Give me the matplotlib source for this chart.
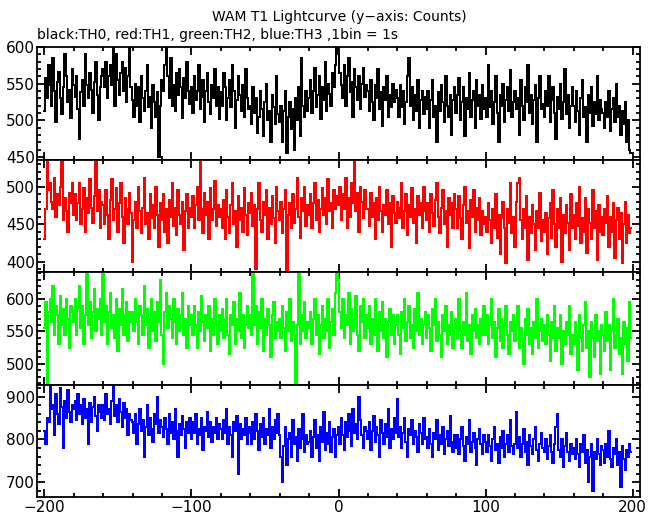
import numpy as np
import matplotlib
matplotlib.use("Agg")
import matplotlib.pyplot as plt
from matplotlib.ticker import MultipleLocator

# time bins (1 bin = 1 s)
tiempo = np.arange(-200, 200)

# TH0 (black) counts
th0 = [
    512, 558, 530, 575, 548, 520, 585, 540, 497, 552, 566, 530, 508, 545, 590, 560, 525, 542, 503, 570,
    548, 532, 560, 515, 475, 538, 555, 520, 590, 548, 530, 565, 542, 510, 552, 580, 535, 500, 545, 560,
    570, 545, 580, 530, 560, 575, 548, 605, 520, 590, 555, 535, 565, 580, 540, 572, 525, 560, 605, 545,
    528, 505, 550, 520, 545, 498, 560, 530, 512, 540, 575, 518, 532, 490, 548, 525, 505, 538, 450, 520,
    555, 540, 575, 605, 560, 530, 585, 520, 548, 512, 565, 535, 570, 545, 503, 558, 530, 580, 540, 522,
    545, 510, 560, 528, 540, 575, 515, 532, 555, 498, 540, 565, 525, 508, 548, 530, 570, 520, 545, 502,
    538, 520, 565, 545, 500, 530, 555, 518, 575, 540, 490, 528, 560, 535, 512, 548, 505, 570, 530, 515,
    520, 495, 545, 510, 530, 482, 505, 540, 515, 478, 525, 550, 500, 512, 470, 535, 518, 495, 560, 508,
    498, 520, 470, 512, 540, 455, 505, 525, 488, 515, 460, 530, 500, 545, 478, 585, 520, 505, 540, 512,
    530, 555, 510, 540, 572, 518, 535, 560, 502, 545, 528, 580, 512, 550, 536, 520, 565, 545, 575, 605,
    590, 565, 548, 530, 575, 520, 560, 585, 538, 552, 505, 570, 545, 528, 560, 515, 550, 572, 532, 548,
    540, 512, 555, 525, 500, 548, 530, 570, 515, 538, 492, 545, 528, 560, 505, 535, 518, 550, 525, 542,
    530, 505, 548, 518, 540, 495, 525, 560, 585, 520, 545, 500, 535, 512, 555, 490, 528, 540, 508, 532,
    515, 540, 490, 528, 555, 505, 520, 470, 538, 512, 548, 525, 498, 560, 520, 505, 535, 480, 528, 545,
    510, 535, 558, 500, 525, 545, 478, 530, 515, 565, 505, 528, 540, 490, 555, 520, 535, 502, 548, 515,
    530, 505, 575, 518, 540, 495, 525, 560, 510, 470, 535, 520, 550, 498, 528, 545, 512, 568, 505, 525,
    540, 515, 530, 480, 555, 520, 500, 545, 525, 575, 510, 535, 495, 528, 548, 470, 530, 560, 515, 522,
    505, 540, 520, 560, 498, 528, 545, 510, 475, 532, 515, 550, 502, 525, 570, 508, 535, 490, 520, 545,
    520, 498, 540, 512, 480, 530, 555, 505, 518, 470, 535, 510, 545, 492, 525, 508, 560, 500, 528, 515,
    510, 490, 525, 505, 540, 485, 515, 530, 498, 550, 505, 520, 480, 512, 495, 525, 470, 500, 460, 455,
]

# TH1 (red) counts
th1 = [
    430, 470, 540, 495, 505, 480, 470, 512, 460, 490, 475, 500, 540, 455, 485, 468, 440, 492, 478, 505,
    462, 490, 455, 478, 505, 450, 470, 498, 440, 485, 465, 510, 472, 452, 488, 540, 468, 495, 445, 480,
    475, 450, 495, 462, 430, 482, 510, 455, 470, 498, 440, 478, 505, 460, 425, 485, 470, 450, 492, 465,
    400, 455, 480, 445, 500, 468, 438, 472, 512, 450, 465, 430, 490, 458, 475, 445, 500, 462, 420, 478,
    455, 490, 440, 470, 425, 482, 460, 505, 448, 472, 435, 495, 462, 450, 480, 415, 468, 490, 445, 472,
    460, 488, 445, 475, 500, 455, 540, 470, 438, 492, 462, 480, 430, 498, 455, 470, 508, 448, 475, 460,
    470, 445, 482, 430, 495, 460, 438, 475, 505, 450, 468, 420, 488, 455, 472, 440, 498, 462, 435, 478,
    465, 492, 448, 475, 390, 470, 505, 455, 440, 480, 462, 495, 430, 472, 450, 488, 458, 425, 500, 468,
    455, 480, 438, 470, 495, 388, 462, 478, 445, 490, 452, 470, 512, 460, 432, 485, 468, 500, 448, 475,
    462, 490, 445, 478, 505, 455, 482, 440, 470, 498, 462, 485, 450, 510, 468, 478, 445, 495, 470, 488,
    475, 500, 455, 490, 470, 512, 445, 485, 460, 505, 478, 540, 468, 492, 440, 500, 480, 458, 495, 470,
    470, 448, 492, 460, 478, 430, 485, 455, 500, 468, 440, 475, 462, 495, 450, 478, 420, 488, 465, 452,
    480, 458, 472, 505, 445, 468, 490, 435, 475, 460, 498, 452, 470, 425, 488, 462, 478, 445, 500, 468,
    455, 478, 440, 490, 465, 448, 482, 505, 460, 438, 472, 495, 450, 468, 420, 485, 462, 478, 445, 490,
    470, 445, 488, 458, 430, 475, 500, 452, 468, 418, 482, 460, 495, 440, 472, 455, 485, 435, 468, 450,
    460, 440, 478, 455, 425, 470, 445, 490, 432, 462, 410, 458, 480, 445, 398, 470, 452, 505, 438, 460,
    420, 480, 505, 512, 455, 430, 470, 445, 488, 402, 460, 438, 475, 450, 415, 468, 445, 492, 428, 455,
    440, 465, 410, 458, 478, 432, 495, 450, 420, 470, 445, 485, 400, 462, 438, 475, 452, 415, 490, 445,
    462, 430, 478, 448, 500, 425, 458, 440, 485, 412, 470, 452, 430, 495, 445, 468, 402, 475, 440, 460,
    435, 470, 452, 488, 420, 460, 440, 478, 405, 455, 472, 430, 465, 398, 450, 480, 425, 462, 438, 445,
]

# TH2 (green) counts
th2 = [
    555, 595, 470, 580, 600, 565, 620, 545, 590, 575, 530, 605, 560, 585, 545, 600, 570, 525, 590, 580,
    565, 600, 545, 585, 620, 555, 590, 530, 575, 645, 560, 595, 540, 580, 615, 550, 585, 570, 600, 545,
    645, 565, 590, 530, 580, 610, 555, 575, 540, 600, 520, 585, 560, 615, 545, 575, 595, 535, 580, 565,
    580, 550, 600, 565, 530, 590, 575, 545, 620, 560, 585, 525, 570, 600, 550, 580, 535, 595, 565, 630,
    545, 500, 580, 610, 555, 590, 570, 540, 600, 565, 530, 585, 550, 575, 610, 545, 570, 525, 590, 560,
    575, 545, 590, 560, 525, 580, 550, 605, 565, 535, 575, 555, 590, 520, 570, 545, 600, 560, 530, 575,
    550, 585, 540, 570, 600, 545, 515, 575, 560, 595, 530, 570, 550, 610, 540, 575, 525, 560, 590, 555,
    575, 545, 645, 560, 590, 530, 580, 555, 600, 520, 570, 545, 585, 560, 510, 575, 595, 540, 565, 550,
    570, 540, 590, 555, 520, 580, 550, 600, 535, 565, 545, 470, 560, 645, 530, 575, 550, 595, 540, 565,
    555, 580, 530, 570, 600, 545, 575, 515, 560, 590, 540, 570, 550, 600, 525, 565, 585, 545, 610, 645,
    630, 580, 555, 600, 540, 575, 560, 610, 530, 585, 550, 570, 605, 545, 520, 590, 565, 600, 540, 575,
    555, 590, 530, 570, 545, 600, 560, 520, 580, 550, 595, 540, 570, 510, 565, 585, 545, 575, 530, 560,
    575, 545, 515, 580, 555, 600, 535, 565, 590, 540, 560, 525, 585, 550, 610, 545, 570, 530, 560, 580,
    540, 575, 555, 520, 585, 560, 600, 535, 565, 545, 510, 575, 550, 590, 530, 560, 545, 580, 525, 555,
    570, 540, 600, 550, 525, 565, 545, 610, 535, 560, 515, 575, 550, 585, 540, 560, 530, 570, 545, 590,
    545, 575, 530, 560, 600, 540, 565, 510, 555, 585, 535, 570, 525, 560, 590, 545, 515, 565, 550, 575,
    535, 560, 590, 525, 555, 540, 500, 570, 545, 585, 530, 555, 515, 565, 540, 600, 525, 550, 570, 535,
    560, 530, 575, 545, 505, 565, 540, 590, 520, 555, 540, 575, 500, 550, 530, 565, 545, 590, 515, 545,
    530, 565, 545, 490, 575, 540, 520, 560, 595, 525, 550, 480, 565, 540, 510, 575, 535, 550, 485, 560,
    545, 520, 580, 535, 560, 490, 550, 600, 525, 545, 570, 515, 540, 485, 565, 530, 555, 505, 595, 540,
]

# TH3 (blue) counts
th3 = [
    820, 790, 850, 840, 930, 870, 880, 810, 905, 860, 835, 920, 875, 780, 890, 850, 915, 865, 840, 880,
    870, 890, 845, 905, 860, 880, 835, 895, 850, 870, 790, 885, 840, 875, 900, 855, 820, 880, 865, 850,
    880, 845, 905, 860, 870, 835, 890, 930, 855, 880, 840, 895, 865, 830, 885, 850, 870, 810, 860, 845,
    840, 815, 860, 790, 835, 870, 820, 845, 760, 830, 880, 810, 850, 825, 795, 860, 835, 900, 815, 845,
    830, 805, 850, 825, 790, 860, 815, 840, 800, 870, 820, 760, 835, 810, 855, 825, 780, 840, 815, 850,
    800, 840, 815, 860, 790, 825, 810, 850, 775, 830, 820, 865, 805, 840, 795, 830, 815, 850, 800, 835,
    825, 800, 845, 815, 870, 790, 830, 810, 760, 840, 820, 855, 720, 835, 800, 825, 810, 850, 790, 830,
    815, 790, 840, 800, 860, 820, 775, 835, 805, 850, 790, 825, 810, 870, 780, 830, 800, 845, 815, 860,
    810, 760, 700, 785, 830, 740, 800, 815, 760, 845, 790, 805, 750, 825, 780, 800, 860, 770, 810, 790,
    795, 820, 760, 805, 845, 780, 810, 750, 830, 795, 865, 775, 815, 790, 840, 770, 805, 825, 760, 810,
    830, 790, 850, 810, 775, 840, 805, 860, 820, 785, 870, 815, 835, 800, 900, 845, 810, 780, 830, 820,
    800, 840, 775, 820, 855, 795, 830, 810, 760, 845, 815, 790, 835, 805, 870, 780, 825, 800, 850, 815,
    895, 805, 830, 780, 815, 850, 795, 760, 825, 810, 845, 790, 820, 805, 770, 835, 815, 790, 850, 800,
    805, 780, 825, 790, 760, 815, 800, 845, 775, 810, 790, 830, 765, 800, 820, 785, 855, 795, 770, 810,
    780, 810, 765, 800, 830, 785, 750, 805, 790, 845, 770, 795, 815, 780, 740, 800, 825, 790, 765, 810,
    795, 770, 810, 785, 750, 800, 830, 775, 790, 745, 805, 780, 820, 760, 790, 810, 770, 845, 785, 765,
    790, 865, 780, 805, 760, 790, 825, 770, 795, 740, 810, 785, 765, 800, 830, 775, 750, 790, 815, 780,
    770, 800, 755, 785, 810, 770, 745, 790, 830, 860, 775, 760, 800, 735, 785, 815, 770, 750, 790, 765,
    780, 755, 800, 765, 735, 790, 770, 810, 745, 775, 700, 760, 790, 680, 770, 755, 800, 765, 740, 785,
    775, 745, 790, 760, 820, 755, 735, 780, 765, 800, 740, 770, 690, 785, 755, 730, 775, 760, 790, 770,
]

series = [th0, th1, th2, th3]
colores = ["black", "#ff0000", "#00ff00", "#0000ff"]
rangos_y = [(446.5, 600), (386, 536), (468, 642), (666, 928)]
paso_mayor = [50, 50, 50, 100]
paso_menor = [10, 10, 10, 20]

fig = plt.figure(figsize=(6.6, 5.15), dpi=100)
plt.rcParams["font.family"] = "DejaVu Sans"

izq, ancho = 37 / 660, 603 / 660
abajo, alto_total = 1 - 497 / 515, (497 - 47) / 515
alto = alto_total / 4

for i, (datos, color) in enumerate(zip(series, colores)):
    ax = fig.add_axes([izq, abajo + (3 - i) * alto, ancho, alto])
    ax.plot(tiempo, datos, drawstyle="steps-mid", color=color, lw=1.4, antialiased=False)
    ax.set_xlim(-205, 205)
    ax.set_ylim(*rangos_y[i])
    ax.xaxis.set_major_locator(MultipleLocator(100))
    ax.xaxis.set_minor_locator(MultipleLocator(20))
    ax.yaxis.set_major_locator(MultipleLocator(paso_mayor[i]))
    ax.yaxis.set_minor_locator(MultipleLocator(paso_menor[i]))
    ax.tick_params(which="both", direction="in", top=True, right=True, width=1.3)
    ax.tick_params(which="major", length=6, labelsize=11)
    ax.tick_params(which="minor", length=3)
    ax.tick_params(axis="y", pad=1.5)
    ax.tick_params(axis="x", pad=2.5)
    for lado in ax.spines.values():
        lado.set_linewidth(1.3)
    if i < 3:
        ax.tick_params(labelbottom=False)

fig.text(0.514, 1 - 21 / 515, "WAM T1 Lightcurve (y\u2212axis: Counts)", ha="center",
         va="baseline", fontsize=10)
fig.text(izq, 1 - 39 / 515, "black:TH0, red:TH1, green:TH2, blue:TH3 ,1bin = 1s", ha="left",
         va="baseline", fontsize=10)

fig.savefig("out.png", dpi=100)
